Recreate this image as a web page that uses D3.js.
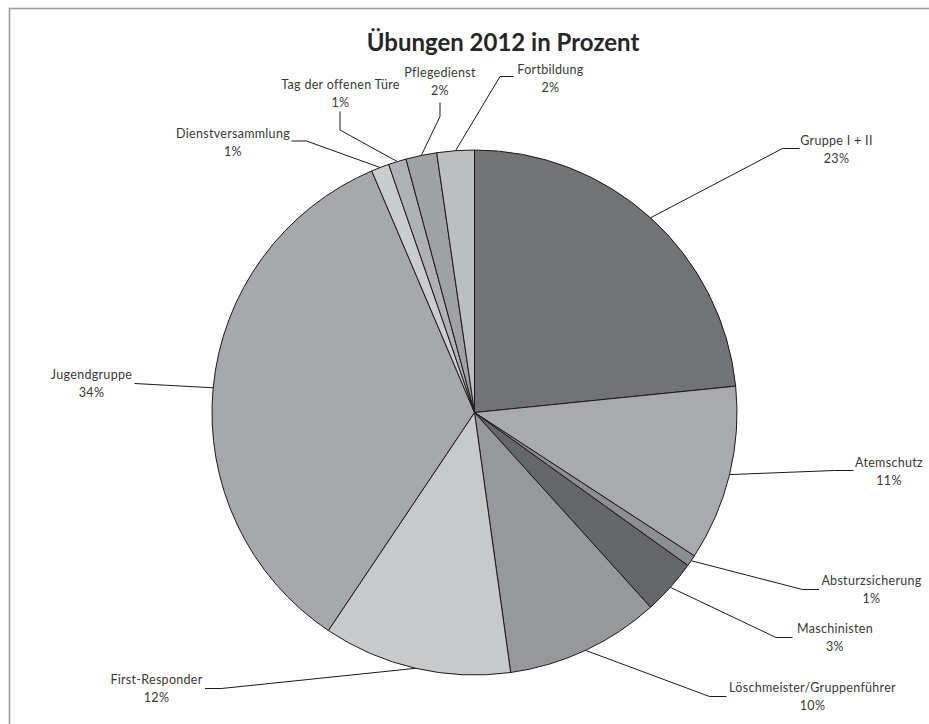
<!DOCTYPE html>
<html>
<head>
<meta charset="utf-8">
<script src="https://cdn.jsdelivr.net/npm/d3@7"></script>
<style>
  html, body { margin: 0; padding: 0; background: #fff; overflow: hidden; }
  svg { display: block; overflow: hidden; }
</style>
</head>
<body>
<svg id="chart" width="929" height="724"></svg>
<script>
// ---- data ----
const title = "Übungen 2012 in Prozent";
const categories = [
  "Gruppe I + II", "Atemschutz", "Absturzsicherung", "Maschinisten",
  "Löschmeister/Gruppenführer", "First-Responder", "Jugendgruppe",
  "Dienstversammlung", "Tag der offenen Türe", "Pflegedienst", "Fortbildung"
];
const values = [23.4, 10.8, 0.7, 3.4, 9.5, 11.6, 34.2, 1.1, 1.1, 1.9, 2.3];
const colors = [
  "#727376", "#a9aaad", "#8d8e91", "#656668", "#97989b", "#c8c9cb",
  "#a7a8ab", "#cbccce", "#b0b1b4", "#a0a1a4", "#bdbec1"
];

// ---- layout (label placement relative to pie centre) ----
const labelLayout = [
  { tx: 362, ty: -272, elbow: [308, -264], end: [325, -264] },
  { tx: 414.5, ty: 50, elbow: [360, 58], end: [379, 58] },
  { tx: 397, ty: 168, elbow: [328, 177], end: [344.5, 177] },
  { tx: 360.5, ty: 216, elbow: [301.5, 225], end: [318, 225] },
  { tx: 338, ty: 275, elbow: [235, 284], end: [252, 284] },
  { tx: -318, ty: 267.5, elbow: [-253, 276], end: [-269.5, 276] },
  { tx: -383, ty: -37.5, elbow: [-340, -29], end: [-340, -29] },
  { tx: -241.5, ty: -279, elbow: [-168, -271.5], end: [-183, -271.5] },
  { tx: -134, ty: -327.5, elbow: [-134.5, -282.5], end: [-134.5, -301] },
  { tx: -34.5, ty: -340, elbow: [-34.5, -296], end: [-34.5, -310] },
  { tx: 76, ty: -342.5, elbow: [25.5, -336], end: [39, -336] }
];

const W = 929, H = 724;
const cx = 474.5, cy = 412.5, R = 262.5;

const svg = d3.select("#chart");

// outer frame (extends past right/bottom edges like the reference)
svg.append("rect")
  .attr("x", 9.5).attr("y", 8.5)
  .attr("width", 960).attr("height", 760)
  .attr("fill", "none").attr("stroke", "#9c9c9c").attr("stroke-width", 1.6);

// title
svg.append("text")
  .attr("x", 503).attr("y", 51)
  .attr("text-anchor", "middle")
  .attr("font-family", "Lato, 'Open Sans', sans-serif")
  .attr("font-weight", "bold")
  .attr("font-size", 24)
  .attr("fill", "#262626")
  .text(title);

const data = categories.map((c, i) => ({ name: c, value: values[i], color: colors[i], layout: labelLayout[i] }));
const total = d3.sum(values);

const pie = d3.pie().sort(null).value(d => d.value);
const arcs = pie(data);
const arc = d3.arc().innerRadius(0).outerRadius(R);

const g = svg.append("g").attr("transform", `translate(${cx},${cy})`);

g.selectAll("path.slice")
  .data(arcs)
  .enter().append("path")
  .attr("class", "slice")
  .attr("d", arc)
  .attr("fill", d => d.data.color)
  .attr("stroke", "#1a1a1a")
  .attr("stroke-width", 1)
  .attr("stroke-linejoin", "round");

// leader lines
g.selectAll("polyline.leader")
  .data(arcs)
  .enter().append("polyline")
  .attr("class", "leader")
  .attr("fill", "none")
  .attr("stroke", "#1a1a1a")
  .attr("stroke-width", 1)
  .attr("points", d => {
    const a = (d.startAngle + d.endAngle) / 2;
    const sx = R * Math.sin(a), sy = -R * Math.cos(a);
    const L = d.data.layout;
    return [[sx, sy], L.elbow, L.end].map(p => p.join(",")).join(" ");
  });

// labels
const lbl = g.selectAll("g.label")
  .data(arcs)
  .enter().append("g")
  .attr("class", "label")
  .attr("font-family", "Lato, 'Open Sans', sans-serif")
  .attr("font-size", 12.5)
  .attr("fill", "#383838")
  .attr("text-anchor", "middle");

lbl.append("text")
  .attr("x", d => d.data.layout.tx)
  .attr("y", d => d.data.layout.ty)
  .attr("dy", "0.35em")
  .attr("letter-spacing", 0.3)
  .text(d => d.data.name);

lbl.append("text")
  .attr("x", d => d.data.layout.tx)
  .attr("y", d => d.data.layout.ty + 18)
  .attr("dy", "0.35em")
  .attr("letter-spacing", 0.3)
  .text(d => Math.round(d.data.value / total * 100) + "%");
</script>
</body>
</html>
